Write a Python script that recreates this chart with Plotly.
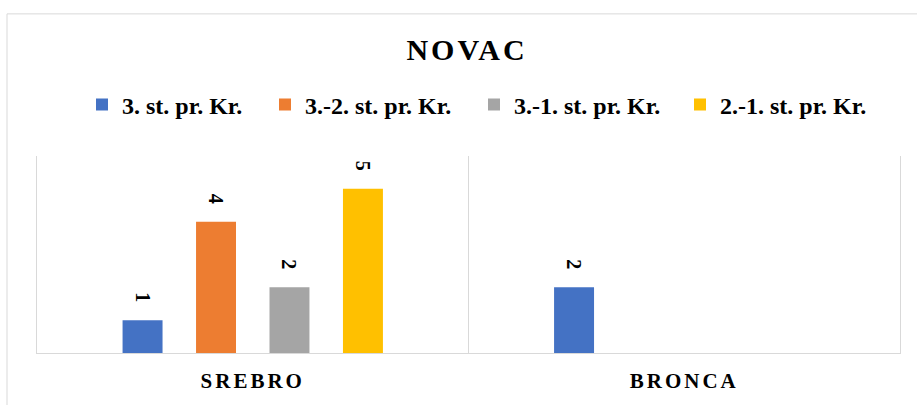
import plotly.graph_objects as go

categories = ["SREBRO", "BRONCA"]
series_names = ["3. st. pr. Kr.", "3.-2. st. pr. Kr.", "3.-1. st. pr. Kr.", "2.-1. st. pr. Kr."]
series_values = [
    [1, 2],
    [4, None],
    [2, None],
    [5, None],
]
colors = ["#4472C4", "#ED7D31", "#A5A5A5", "#FFC000"]
legend_widths = [138, 164, 161, 150]
title_text = "NOVAC"

FONT = "Liberation Serif"

def spaced(t, px):
    return f'<span style="letter-spacing:{px}px">{t}</span>'

fig = go.Figure()
for name, vals, col, lw in zip(series_names, series_values, colors, legend_widths):
    fig.add_trace(go.Bar(
        name=name,
        x=categories,
        y=vals,
        marker=dict(color=col, line=dict(width=0)),
        text=[("" if v is None else str(v)) for v in vals],
        texttemplate="%{text}\u00a0\u00a0\u00a0",
        textposition="outside",
        textangle=90,
        textfont=dict(family=FONT, size=20, color="#000000", weight="bold"),
        cliponaxis=False,
        legendwidth=lw,
        hoverinfo="skip",
    ))

W, H = 917, 405
L, R, T, B = 37, 17, 156, 48
pw, ph = W - L - R, H - T - B

fig.update_layout(
    width=W, height=H,
    margin=dict(l=L, r=R, t=T, b=B, pad=0),
    paper_bgcolor="white",
    plot_bgcolor="white",
    barmode="group",
    bargap=0.319,
    bargroupgap=0.456,
    title=dict(
        text=f"<b>{spaced(title_text, 3)}</b>",
        font=dict(family=FONT, size=30, color="#000000"),
        x=467 / W, xref="container", xanchor="center",
        y=1 - 49 / H, yref="container", yanchor="middle",
    ),
    legend=dict(
        orientation="h",
        xref="container", yref="container",
        x=82 / W, xanchor="left",
        y=1 - 105 / H, yanchor="middle",
        font=dict(family=FONT, size=24, color="#000000", weight="bold"),
        traceorder="normal",
        itemclick=False,
    ),
    showlegend=True,
    xaxis=dict(
        type="category",
        tickson="boundaries",
        showgrid=True, gridcolor="#D9D9D9", gridwidth=1,
        showline=True, linecolor="#D9D9D9", linewidth=1,
        ticks="", ticklen=0,
        ticklabelstandoff=9,
        tickvals=categories,
        ticktext=[f"<b>{spaced(c, 3)}</b>" for c in categories],
        tickfont=dict(family=FONT, size=21, color="#000000"),
        range=[-0.5, 1.5],
        fixedrange=True,
    ),
    yaxis=dict(
        range=[0, 6],
        showgrid=False, zeroline=False,
        showticklabels=False, ticks="",
        showline=True, linecolor="#D9D9D9", linewidth=1, mirror=True,
        fixedrange=True,
    ),
    shapes=[dict(
        type="rect", xref="paper", yref="paper",
        x0=(7 - L) / pw, x1=(W + 10 - L) / pw,
        y0=-(H + 10 - (T + ph)) / ph, y1=(T + ph - 11) / ph,
        line=dict(color="#D9D9D9", width=1),
        fillcolor="rgba(0,0,0,0)", layer="below",
    )],
)

fig.write_html(
    "out.html",
    config={"displayModeBar": False, "staticPlot": False},
    post_script="document.body.style.margin='0';document.body.style.overflow='hidden';",
)
